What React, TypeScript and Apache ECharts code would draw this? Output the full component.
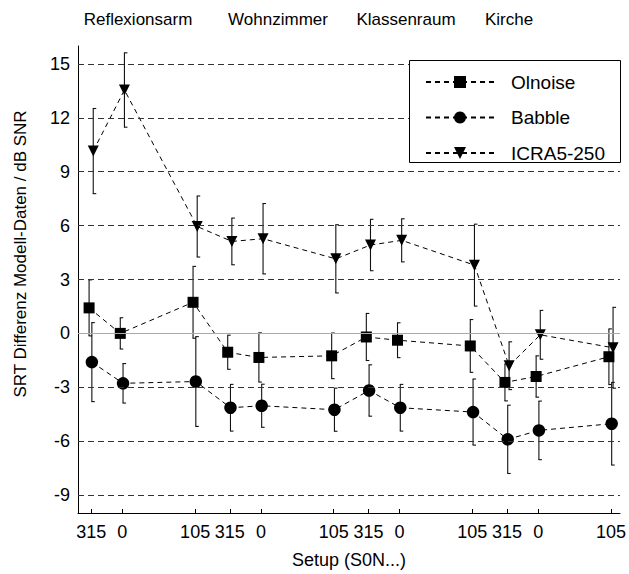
import React, { useEffect, useRef } from 'react';
import * as echarts from 'echarts';

const rooms = ['Reflexionsarm', 'Wohnzimmer', 'Klassenraum', 'Kirche'];
const angles = [315, 0, 105];
const roomSpacing = 200;
const yTicks = [-9, -6, -3, 0, 3, 6, 9, 12, 15];

const seriesNames = ['Olnoise', 'Babble', 'ICRA5-250'];

const olnoiseMean = [1.42, 0.0, 1.73, -1.05, -1.34, -1.25, -0.2, -0.38, -0.7, -2.73, -2.4, -1.3];
const olnoiseErr = [1.56, 0.87, 2.0, 0.95, 1.37, 1.27, 1.31, 0.97, 1.47, 1.03, 1.15, 1.55];

const babbleMean = [-1.6, -2.78, -2.68, -4.14, -4.03, -4.25, -3.18, -4.14, -4.38, -5.9, -5.4, -5.03];
const babbleErr = [2.2, 1.1, 2.5, 1.3, 1.2, 1.2, 1.43, 1.3, 1.84, 1.9, 1.63, 2.3];

const icraMean = [10.15, 13.55, 5.95, 5.12, 5.27, 4.15, 4.92, 5.18, 3.8, -1.8, -0.08, -0.8];
const icraErr = [2.37, 2.07, 1.7, 1.3, 1.96, 1.9, 1.43, 1.2, 2.28, 1.33, 1.36, 2.25];

const FONT = '"Liberation Sans", Arial, Helvetica, sans-serif';

const xPositions: number[] = rooms.flatMap((_, i) =>
  angles.map((a) => i * roomSpacing + (a > 180 ? a - 360 : a))
);
const xLabels: string[] = rooms.flatMap(() => angles.map((a) => String(a)));

const seriesDefs = [
  { name: seriesNames[0], mean: olnoiseMean, err: olnoiseErr, symbol: 'rect', size: 11, rotate: 0, offset: -3 },
  { name: seriesNames[1], mean: babbleMean, err: babbleErr, symbol: 'circle', size: 12.5, rotate: 0, offset: 1 },
  { name: seriesNames[2], mean: icraMean, err: icraErr, symbol: 'triangle', size: 11, rotate: 180, offset: 3 },
];

export default function App() {
  const ref = useRef<HTMLDivElement>(null);

  useEffect(() => {
    if (!ref.current) return;
    const chart = echarts.init(ref.current, undefined, { renderer: 'svg' });

    const series: any[] = [];

    series.push({
      type: 'line',
      name: 'grid',
      data: [],
      z: 1,
      silent: true,
      markLine: {
        silent: true,
        symbol: 'none',
        animation: false,
        label: { show: false },
        lineStyle: { type: [6, 4], color: '#333', width: 1 },
        data: [
          ...yTicks.filter((v) => v !== 0).map((v) => ({ yAxis: v })),
          { yAxis: 0, lineStyle: { type: 'solid', color: '#aaa', width: 1 } },
        ],
      },
    });

    seriesDefs.forEach((s) => {
      series.push({
        type: 'custom',
        name: 'err-' + s.name,
        silent: true,
        z: 2,
        data: s.mean.map((m, i) => [xPositions[i] + s.offset, m - s.err[i], m + s.err[i]]),
        encode: { x: 0, y: [1, 2] },
        renderItem: (params: any, api: any) => {
          const x = api.value(0);
          const lo = api.coord([x, api.value(1)]);
          const hi = api.coord([x, api.value(2)]);
          const st = { stroke: '#111', lineWidth: 1.1 };
          return {
            type: 'group',
            children: [
              { type: 'line', shape: { x1: lo[0], y1: lo[1], x2: hi[0], y2: hi[1] }, style: st },
              { type: 'line', shape: { x1: lo[0] - 0.5, y1: lo[1], x2: lo[0] + 3, y2: lo[1] }, style: st },
              { type: 'line', shape: { x1: hi[0] - 0.5, y1: hi[1], x2: hi[0] + 3, y2: hi[1] }, style: st },
            ],
          };
        },
      });
    });

    seriesDefs.forEach((s) => {
      series.push({
        type: 'line',
        name: s.name,
        z: 3,
        data: s.mean.map((m, i) => [xPositions[i] + s.offset, m]),
        symbol: s.symbol,
        symbolSize: s.size,
        symbolRotate: s.rotate,
        showAllSymbol: true,
        itemStyle: { color: '#000', borderWidth: 0 },
        lineStyle: { color: '#000', width: 1, type: [5, 4] },
      });
    });

    chart.setOption({
      animation: false,
      backgroundColor: '#fff',
      grid: { left: 78, right: 6, top: 46, bottom: 59, containLabel: false },
      xAxis: {
        type: 'value',
        min: -64,
        max: 718,
        name: 'Setup (S0N...)',
        nameLocation: 'middle',
        nameGap: 38,
        nameTextStyle: { fontFamily: FONT, fontSize: 18, color: '#000' },
        axisLine: { show: true, onZero: false, lineStyle: { color: '#000', width: 1 } },
        axisTick: { show: true, inside: true, length: 4, customValues: xPositions, lineStyle: { color: '#000' } },
        axisLabel: {
          show: true,
          customValues: xPositions,
          margin: 10,
          fontFamily: FONT,
          fontSize: 18,
          color: '#000',
          formatter: (v: number) => {
            const idx = xPositions.indexOf(v);
            return idx >= 0 ? xLabels[idx] : '';
          },
        },
        splitLine: { show: false },
      },
      yAxis: {
        type: 'value',
        min: -10,
        max: 16,
        axisLine: { show: true, onZero: false, lineStyle: { color: '#000', width: 1 } },
        axisTick: { show: true, inside: true, length: 4, customValues: yTicks, lineStyle: { color: '#000' } },
        axisLabel: {
          show: true,
          customValues: yTicks,
          margin: 8,
          fontFamily: FONT,
          fontSize: 18,
          color: '#000',
        },
        splitLine: { show: false },
      },
      legend: {
        data: seriesNames,
        orient: 'vertical',
        left: 425,
        top: 72.5,
        itemWidth: 68,
        itemHeight: 15,
        itemGap: 16.5,
        padding: 0,
        z: 20,
        textStyle: { fontFamily: FONT, fontSize: 19, color: '#000', padding: [0, 0, 0, 12] },
      },
      graphic: [
        {
          type: 'rect',
          z: 10,
          shape: { x: 409.5, y: 60.5, width: 211, height: 102 },
          style: { fill: '#fff', stroke: '#000', lineWidth: 1 },
        },
        ...rooms.map((r, i) => ({
          type: 'text',
          x: [138, 278, 406, 509][i],
          y: 19,
          style: {
            text: r,
            fontFamily: FONT,
            fontSize: 17,
            fill: '#000',
            textAlign: 'center',
            textVerticalAlign: 'middle',
            align: 'center',
            verticalAlign: 'middle',
          },
        })),
        {
          type: 'text',
          x: 20,
          y: 254,
          rotation: Math.PI / 2,
          style: {
            text: 'SRT Differenz Modell-Daten / dB SNR',
            fontFamily: FONT,
            fontSize: 17,
            fill: '#000',
            textAlign: 'center',
            textVerticalAlign: 'middle',
            align: 'center',
            verticalAlign: 'middle',
          },
        },
      ],
      series,
    });

    return () => chart.dispose();
  }, []);

  return (
    <div
      ref={ref}
      style={{ position: 'fixed', left: 0, top: 0, width: 629, height: 574, background: '#fff' }}
    />
  );
}
